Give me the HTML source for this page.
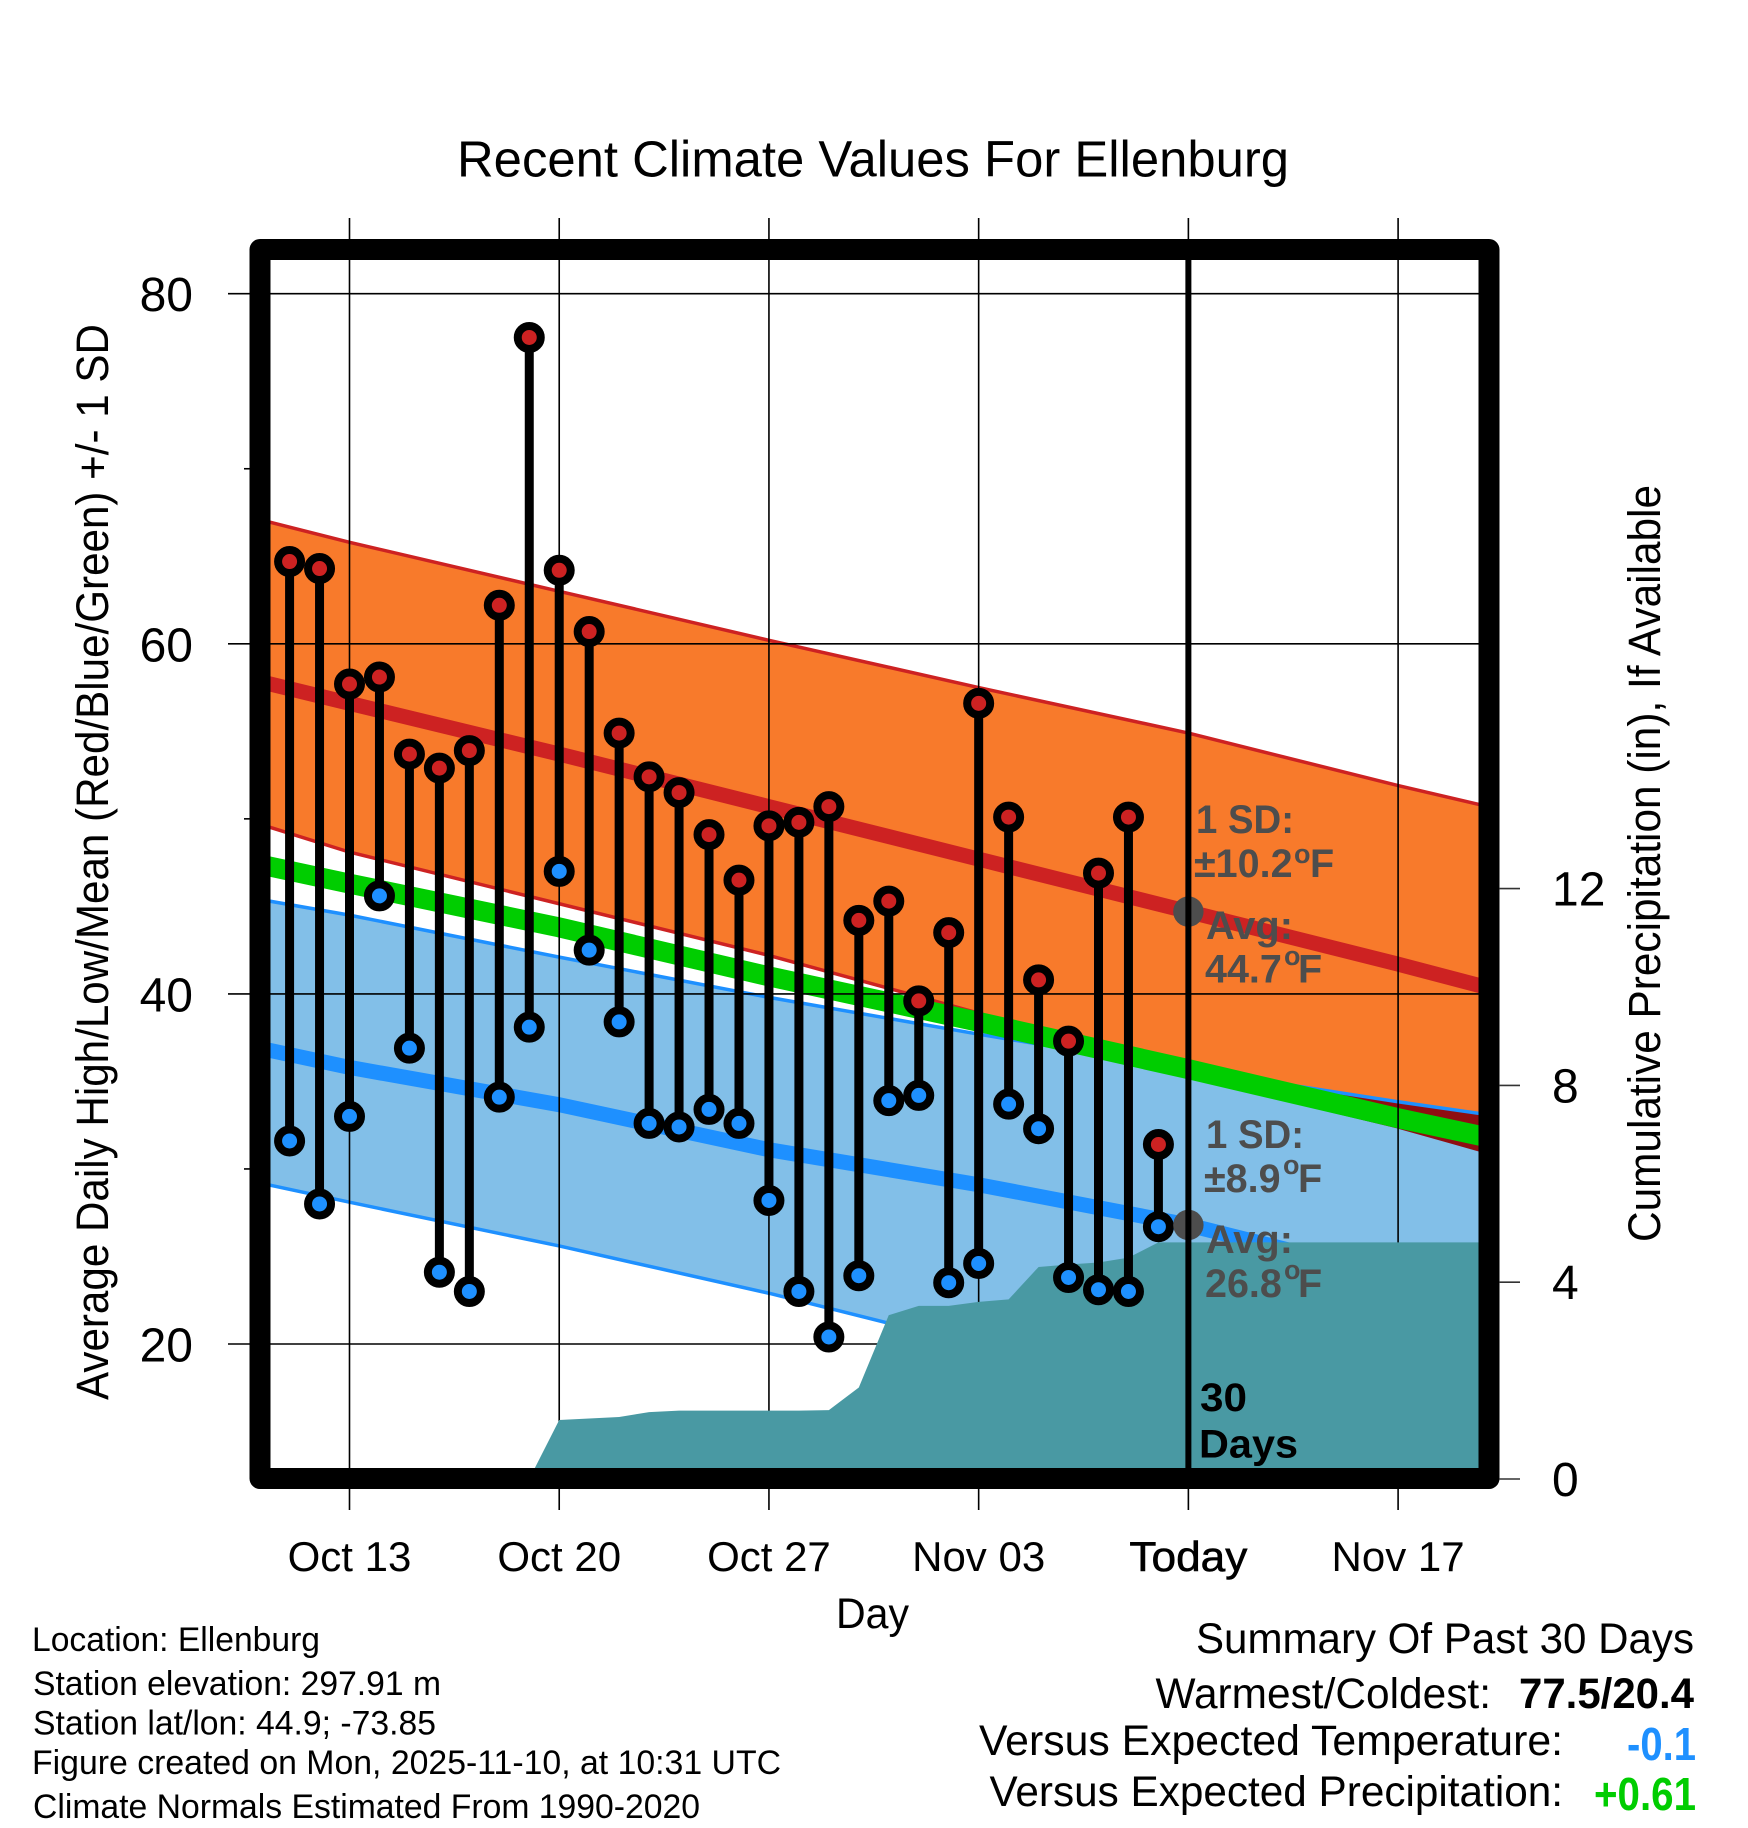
<!DOCTYPE html>
<html lang="en">
<head>
<meta charset="utf-8">
<title>Recent Climate Values For Ellenburg</title>
<style>
html,body{margin:0;padding:0;background:#fff;}
svg{display:block;font-family:"Liberation Sans",sans-serif;}
</style>
</head>
<body>
<svg id="chart" xmlns="http://www.w3.org/2000/svg" width="1748" height="1828" viewBox="0 0 1748 1828">
<rect x="0" y="0" width="1748" height="1828" fill="#ffffff"/>
<g id="plot"></g>
<rect x="260" y="249.5" width="1229" height="1229" fill="none" stroke="#000" stroke-width="21" stroke-linejoin="round"/>
<g id="axes"></g>

<text x="457" y="176.5" font-size="51" textLength="832" lengthAdjust="spacingAndGlyphs">Recent Climate Values For Ellenburg</text>
<text x="0" y="0" font-size="45" textLength="1076" lengthAdjust="spacingAndGlyphs" transform="translate(108 1400) rotate(-90)">Average Daily High/Low/Mean (Red/Blue/Green) +/- 1 SD</text>
<text x="0" y="0" font-size="45" textLength="757" lengthAdjust="spacingAndGlyphs" transform="translate(1660 1242) rotate(-90)">Cumulative Precipitation (in), If Available</text>
<text x="836" y="1628" font-size="43" textLength="73" lengthAdjust="spacingAndGlyphs">Day</text>

<g font-weight="700" font-size="39.5" fill="#4d4d4d">
<text x="1196" y="833" textLength="98" lengthAdjust="spacingAndGlyphs">1 SD:</text>
<text><tspan x="1194" y="877">±10.2</tspan><tspan x="1294" y="863" font-size="27">o</tspan><tspan x="1310" y="877">F</tspan></text>
<text x="1206" y="939" textLength="87" lengthAdjust="spacingAndGlyphs">Avg:</text>
<text><tspan x="1205" y="982.7">44.7</tspan><tspan x="1284" y="965" font-size="27">o</tspan><tspan x="1298" y="982.7">F</tspan></text>
</g>
<g font-weight="700" font-size="39.5" fill="#4d4d4d">
<text x="1206" y="1148" textLength="98" lengthAdjust="spacingAndGlyphs">1 SD:</text>
<text><tspan x="1204" y="1192">±8.9</tspan><tspan x="1283" y="1174" font-size="27">o</tspan><tspan x="1298" y="1192">F</tspan></text>
<text x="1206" y="1253" textLength="87" lengthAdjust="spacingAndGlyphs">Avg:</text>
<text><tspan x="1205" y="1297">26.8</tspan><tspan x="1284" y="1279" font-size="27">o</tspan><tspan x="1298" y="1297">F</tspan></text>
</g>
<text x="1200" y="1411" font-size="40" font-weight="700" textLength="47" lengthAdjust="spacingAndGlyphs">30</text>
<text x="1199" y="1457.7" font-size="40" font-weight="700" textLength="99" lengthAdjust="spacingAndGlyphs">Days</text>

<g font-size="34">
<text x="32" y="1651" textLength="288" lengthAdjust="spacingAndGlyphs">Location: Ellenburg</text>
<text x="33" y="1695" textLength="408" lengthAdjust="spacingAndGlyphs">Station elevation: 297.91 m</text>
<text x="33" y="1734.5" textLength="403" lengthAdjust="spacingAndGlyphs">Station lat/lon: 44.9; -73.85</text>
<text x="32" y="1774" textLength="749" lengthAdjust="spacingAndGlyphs">Figure created on Mon, 2025-11-10, at 10:31 UTC</text>
<text x="33" y="1818" textLength="667" lengthAdjust="spacingAndGlyphs">Climate Normals Estimated From 1990-2020</text>
</g>

<g font-size="43">
<text x="1196" y="1653" textLength="498" lengthAdjust="spacingAndGlyphs">Summary Of Past 30 Days</text>
<text x="1155.5" y="1708" textLength="335.5" lengthAdjust="spacingAndGlyphs">Warmest/Coldest:</text>
<text x="1519" y="1708" font-weight="700" textLength="175" lengthAdjust="spacingAndGlyphs">77.5/20.4</text>
<text x="979" y="1755" textLength="584" lengthAdjust="spacingAndGlyphs">Versus Expected Temperature:</text>
<text x="1627" y="1760" font-size="46" font-weight="700" fill="#1e90ff" textLength="69" lengthAdjust="spacingAndGlyphs">-0.1</text>
<text x="989.5" y="1806" textLength="573.5" lengthAdjust="spacingAndGlyphs">Versus Expected Precipitation:</text>
<text x="1594" y="1810" font-size="46" font-weight="700" fill="#00cd00" textLength="102" lengthAdjust="spacingAndGlyphs">+0.61</text>
</g>
</svg>

<script>
// Observed daily values, Oct 11 through Nov 9
const highs = [64.7,64.3,57.7,58.1,53.7,52.9,53.9,62.2,77.5,64.2,60.7,54.9,52.4,51.5,49.1,46.5,49.6,49.8,50.7,44.2,45.3,39.6,43.5,56.6,50.1,40.8,37.3,46.9,50.1,31.4];
const lows = [31.6,28.0,33.0,45.6,36.9,24.1,23.0,34.1,38.1,47.0,42.5,38.4,32.6,32.4,33.4,32.6,28.2,23.0,20.4,23.9,33.9,34.2,23.5,24.6,33.7,32.3,23.8,23.1,23.0,26.7];
const firstObservedDay = -2;

// Climate normals, indexed by days since Oct 13
const normalDays = [-3,0,7,14,21,28,35,38];
const highUpper = [67.1,65.8,63.0,60.2,57.5,54.9,51.9,50.7];
const highMean = [57.85,56.6,53.7,50.7,47.7,44.7,41.7,40.35];
const highLower = [49.7,48.1,45.15,42.2,38.9,35.2,32.3,30.85];
const lowUpper = [45.4,44.5,42.1,39.8,37.7,35.7,33.84,33.1];
const lowMean = [36.9,35.8,33.67,31.1,29.1,26.8,23.8,22.5];
const lowLower = [29.2,28.1,25.6,22.9,19.9,17.9,15.6,14.5];
const overallMean = [47.4,46.3,43.8,41.0,38.4,35.7,32.9,31.8];

// Cumulative precipitation (in), indexed by days since Oct 13
const precipDays = [6,7,8,9,10,11,12,13,14,15,16,17,18,19,20,21,22,23,24,25,26,27,38];
const precipValues = [0,1.2,1.23,1.26,1.36,1.39,1.39,1.39,1.39,1.39,1.4,1.86,3.33,3.52,3.52,3.6,3.65,4.31,4.36,4.4,4.5,4.81,4.81];

// Ticks
const tempTicks = [80,60,40,20];
const tempMinorTicks = [70,50,30];
const precipTicks = [12,8,4,0];
const dateTicks = [0,7,14,21,28,35];
const dateLabels = ["Oct 13","Oct 20","Oct 27","Nov 03","Today","Nov 17"];
const todayDay = 28;
const todayHighMean = 44.7;
const todayLowMean = 26.8;

// Axis functions
function xDay(d){ return 349.5 + 29.96 * d; }
function yTemp(t){ return 293.7 + (80 - t) * 17.505; }
function yPrecip(p){ return 1479 - 49.2 * p; }

const NS = "http://www.w3.org/2000/svg";
const plot = document.getElementById("plot");
const axes = document.getElementById("axes");

function make(parent, tag, attrs){
  const el = document.createElementNS(NS, tag);
  for (const k in attrs) el.setAttribute(k, attrs[k]);
  parent.appendChild(el);
  return el;
}
function linePts(values){
  return normalDays.map((d, i) => xDay(d) + "," + yTemp(values[i])).join(" ");
}
function bandPts(upper, lower){
  const top = normalDays.map((d, i) => xDay(d) + "," + yTemp(upper[i]));
  const bottom = normalDays.map((d, i) => xDay(d) + "," + yTemp(lower[i])).reverse();
  return top.concat(bottom).join(" ");
}

let el;

el = make(plot, "polygon", {points: bandPts(highUpper, highLower), fill: "#f87a2b"});


el = make(plot, "polyline", {points: linePts(highUpper), fill: "none", stroke: "#cd2222", "stroke-width": 3.5});


el = make(plot, "polyline", {points: linePts(highLower), fill: "none", stroke: "#cd2222", "stroke-width": 3.5});



el = make(plot, "polygon", {points: bandPts(lowUpper, lowLower), fill: "#82bfe8"});



const defs = make(plot, "defs", {});
const clip = make(defs, "clipPath", {id: "high-band-clip"});
make(clip, "polygon", {points: bandPts(highUpper, highLower)});
el = make(plot, "polygon", {points: bandPts(lowUpper, lowLower), fill: "#8f0e12", "clip-path": "url(#high-band-clip)"});



el = make(plot, "polyline", {points: linePts(lowUpper), fill: "none", stroke: "#1e90ff", "stroke-width": 3.5});


el = make(plot, "polyline", {points: linePts(lowLower), fill: "none", stroke: "#1e90ff", "stroke-width": 3.5});



el = make(plot, "polyline", {points: linePts(highMean), fill: "none", stroke: "#cd2222", "stroke-width": 15});


el = make(plot, "polyline", {points: linePts(lowMean), fill: "none", stroke: "#1e90ff", "stroke-width": 15});


el = make(plot, "polyline", {points: linePts(overallMean), fill: "none", stroke: "#00cd00", "stroke-width": 20});



// Grid and tick marks
tempTicks.forEach(t => {
  const g = make(plot, "line", {x1: 228, x2: 1489, y1: yTemp(t), y2: yTemp(t), stroke: "#000", "stroke-width": 1.6});
  
  
  const lab = make(axes, "text", {x: 193, y: yTemp(t) + 17.5, "font-size": 48, "text-anchor": "end"});
  
  
  lab.textContent = t;
});
tempMinorTicks.forEach(t => {
  const g = make(plot, "line", {x1: 244, x2: 260, y1: yTemp(t), y2: yTemp(t), stroke: "#000", "stroke-width": 1.6});
  
  
});
dateTicks.forEach((d, i) => {
  const g = make(plot, "line", {x1: xDay(d), x2: xDay(d), y1: 218, y2: 1510, stroke: "#000", "stroke-width": 1.6});
  
  
  const lab = make(axes, "text", {x: xDay(d), y: 1571, "font-size": 42, "text-anchor": "middle"});
  if (d === todayDay) {
    lab.setAttribute("stroke", "#000");
    lab.setAttribute("stroke-width", "0.6");
    lab.setAttribute("textLength", "118");
    lab.setAttribute("lengthAdjust", "spacingAndGlyphs");
  }
  
  
  lab.textContent = dateLabels[i];
});
precipTicks.forEach(p => {
  const g = make(axes, "line", {x1: 1499, x2: 1520, y1: yPrecip(p), y2: yPrecip(p), stroke: "#333", "stroke-width": 1.6});
  
  
  const lab = make(axes, "text", {x: 1552, y: yPrecip(p) + 17, "font-size": 48});
  
  
  lab.textContent = p;
});

// Precipitation area
const precipTop = precipDays.map((d, i) => xDay(d) + "," + yPrecip(precipValues[i]));
const precipArea = precipTop.concat([xDay(precipDays[precipDays.length - 1]) + "," + yPrecip(0), xDay(precipDays[0]) + "," + yPrecip(0)]).join(" ");
el = make(plot, "polygon", {points: precipArea, fill: "#4999a3"});



// Daily stems and markers
highs.forEach((h, i) => {
  const x = xDay(firstObservedDay + i);
  const stem = make(plot, "line", {x1: x, x2: x, y1: yTemp(h), y2: yTemp(lows[i]), stroke: "#000", "stroke-width": 9});
  
  
  const hi = make(plot, "circle", {cx: x, cy: yTemp(h), r: 11.5, fill: "#cd2222", stroke: "#000", "stroke-width": 8});
  
  
  const lo = make(plot, "circle", {cx: x, cy: yTemp(lows[i]), r: 11.5, fill: "#1e90ff", stroke: "#000", "stroke-width": 8});
  
  
});

// Today markers
el = make(plot, "circle", {cx: xDay(todayDay), cy: yTemp(todayHighMean), r: 15.2, fill: "#4d4d4d"});


el = make(plot, "circle", {cx: xDay(todayDay), cy: yTemp(todayLowMean), r: 15.2, fill: "#4d4d4d"});


el = make(plot, "line", {x1: xDay(todayDay), x2: xDay(todayDay), y1: 260, y2: 1470, stroke: "#000", "stroke-width": 6});


</script>
</body>
</html>
